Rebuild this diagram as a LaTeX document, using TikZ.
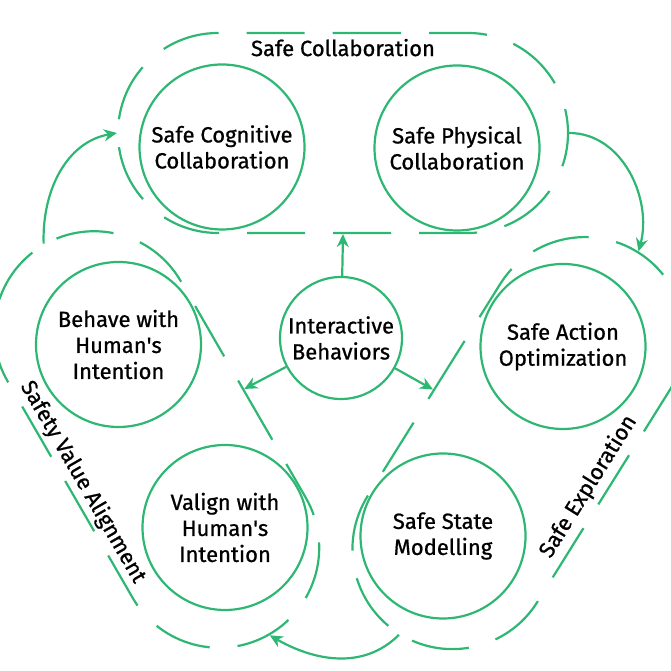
\documentclass[tikz,border=0pt]{standalone}
\usepackage{fontspec}
\setmainfont{Fira Sans}[RawFeature={embolden=0.8}]
\usetikzlibrary{shapes.misc,arrows.meta}

\definecolor{mint}{RGB}{46,183,115}

\begin{document}
\begin{tikzpicture}[
    x=1pt, y=1pt,
    line width=2.2pt,
    goal/.style={draw=mint, circle, align=center, minimum size=165pt, inner sep=0pt, font=\fontsize{22}{26}\selectfont},
    core/.style={goal, minimum size=122pt},
    group/.style={draw=mint, dash pattern=on 58pt off 28pt, rounded rectangle, minimum width=450pt, minimum height=200pt, inner sep=0pt},
    tag/.style={font=\fontsize{22}{26}\selectfont, inner sep=2pt},
    link/.style={draw=mint, -{Stealth[length=13pt,width=12pt]}}
]
\useasboundingbox (0,0) rectangle (671,671);

% the three dashed groups
\node[group] (coll) at (343,538) {};
\node[group, rotate=-60] (svac) at (156.7,231.5) {};
\node[group, rotate=58] (sexp) at (518.7,227.9) {};

\node[tag, anchor=north, outer sep=5pt] at (coll.north) {Safe Collaboration};
\node[tag, rotate=-60, anchor=south, outer sep=3pt] at (svac.south) {Safety Value Alignment};
\node[tag, rotate=58, anchor=south, outer sep=6pt] at (sexp.south) {Safe Exploration};

% circles
\node[goal] (cog) at (222,524) {Safe Cognitive\\Collaboration};
\node[goal] (phy) at (457,523) {Safe Physical\\Collaboration};
\node[goal] (beh) at (118.5,326.5) {Behave with\\Human\textquotesingle s\\Intention};
\node[goal] (val) at (225,143.5) {Valign with\\Human\textquotesingle s\\Intention};
\node[goal] (act) at (563,324.5) {Safe Action\\Optimization};
\node[goal] (sta) at (443,135) {Safe State\\Modelling};
\node[core] (ib) at (341,333) {Interactive\\Behaviors};

% arrows
\draw[link] (ib) -- (coll.south);
\draw[link] (ib) -- (svac.north);
\draw[link] (ib) -- (sexp.north);
\draw[link] (svac.west) to[out=92,in=190] (coll.west);
\draw[link] (coll.east) to[out=0,in=75] (sexp.east);
\draw[link] (sexp.west) to[out=225,in=-30] (svac.east);
\end{tikzpicture}
\end{document}
